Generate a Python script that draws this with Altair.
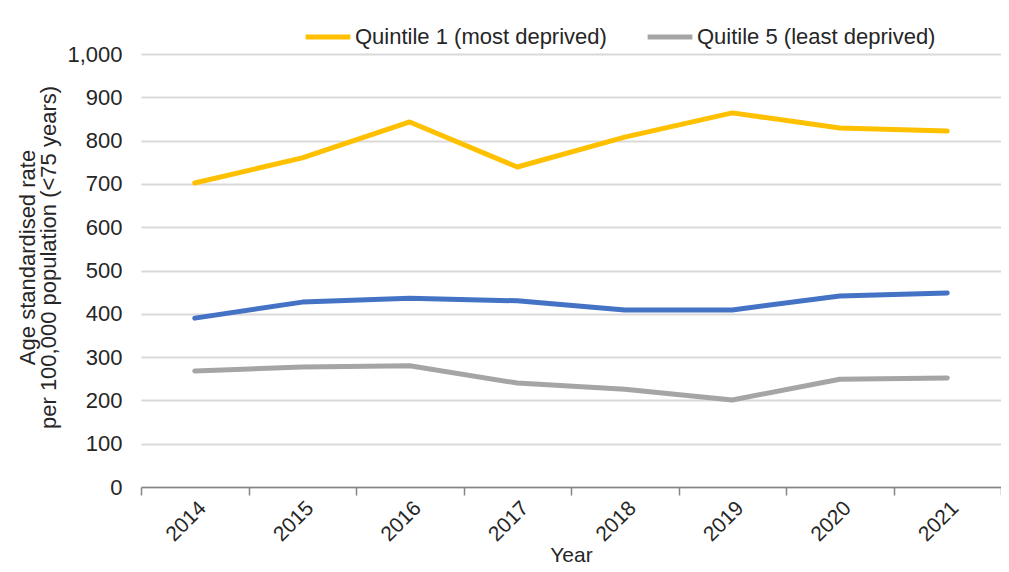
import altair as alt
import pandas as pd

years = [2014, 2015, 2016, 2017, 2018, 2019, 2020, 2021]
quintile1 = [702, 760, 843, 739, 808, 864, 829, 822]
overall = [390, 427, 436, 430, 409, 409, 441, 448]
quintile5 = [268, 277, 280, 240, 226, 201, 249, 252]

s_q1 = "Quintile 1 (most deprived)"
s_q5 = "Quitile 5 (least deprived)"
s_all = "All"

series_names = [s_q1, s_all, s_q5]
series_values = [quintile1, overall, quintile5]

rows = []
for name, vals in zip(series_names, series_values):
    for y, v in zip(years, vals):
        rows.append({"year": str(y), "series": name, "value": v})
df = pd.DataFrame(rows)

FONT = "Liberation Sans"
TXT = "#262626"

chart = alt.Chart(df).mark_line(strokeWidth=5, strokeCap="round", strokeJoin="round").encode(
    x=alt.X(
        "year:O",
        bandPosition=0.5,
        scale=alt.Scale(type="band", paddingInner=0, paddingOuter=0),
        axis=alt.Axis(
            title="Year",
            labelAngle=-45,
            labelFontSize=21,
            labelPadding=2,
            tickBand="extent",
            tickSize=8,
            tickColor="#868686",
            tickWidth=1.5,
            domainColor="#868686",
            domainWidth=1.5,
            grid=False,
            titleFontSize=21,
            titleFontWeight="normal",
            titlePadding=0,
        ),
    ),
    y=alt.Y(
        "value:Q",
        scale=alt.Scale(domain=[0, 1000], nice=False),
        axis=alt.Axis(
            title=["Age standardised rate", "per 100,000 population (<75 years)"],
            values=list(range(0, 1001, 100)),
            format=",d",
            labelFontSize=22,
            labelPadding=19,
            ticks=False,
            domain=False,
            gridColor="#D9D9D9",
            gridWidth=2,
            titleFontSize=22,
            titleLineHeight=21,
            titleFontWeight="normal",
            titlePadding=6,
            titleY=203,
        ),
    ),
    color=alt.Color(
        "series:N",
        scale=alt.Scale(domain=[s_q1, s_q5, s_all], range=["#FFC000", "#A5A5A5", "#4472C4"]),
        legend=alt.Legend(
            values=[s_q1, s_q5],
            title=None,
            orient="none",
            legendX=162,
            legendY=-42,
            direction="horizontal",
            symbolType="stroke",
            symbolStrokeWidth=5,
            symbolSize=2000,
            labelFontSize=22,
            labelLimit=400,
            columnPadding=30,
            labelOffset=2,
        ),
    ),
).properties(
    width=860,
    height=433,
    autosize=alt.AutoSizeParams(type="none"),
    padding={"left": 133, "top": 46, "right": 0, "bottom": 79},
).configure(
    font=FONT,
    background="white",
).configure_view(
    stroke=None
).configure_axis(
    labelColor=TXT,
    titleColor=TXT,
    labelFont=FONT,
    titleFont=FONT,
).configure_legend(
    labelColor=TXT,
    labelFont=FONT,
)

chart.save("out.html", embed_options={"renderer": "svg", "actions": False})
